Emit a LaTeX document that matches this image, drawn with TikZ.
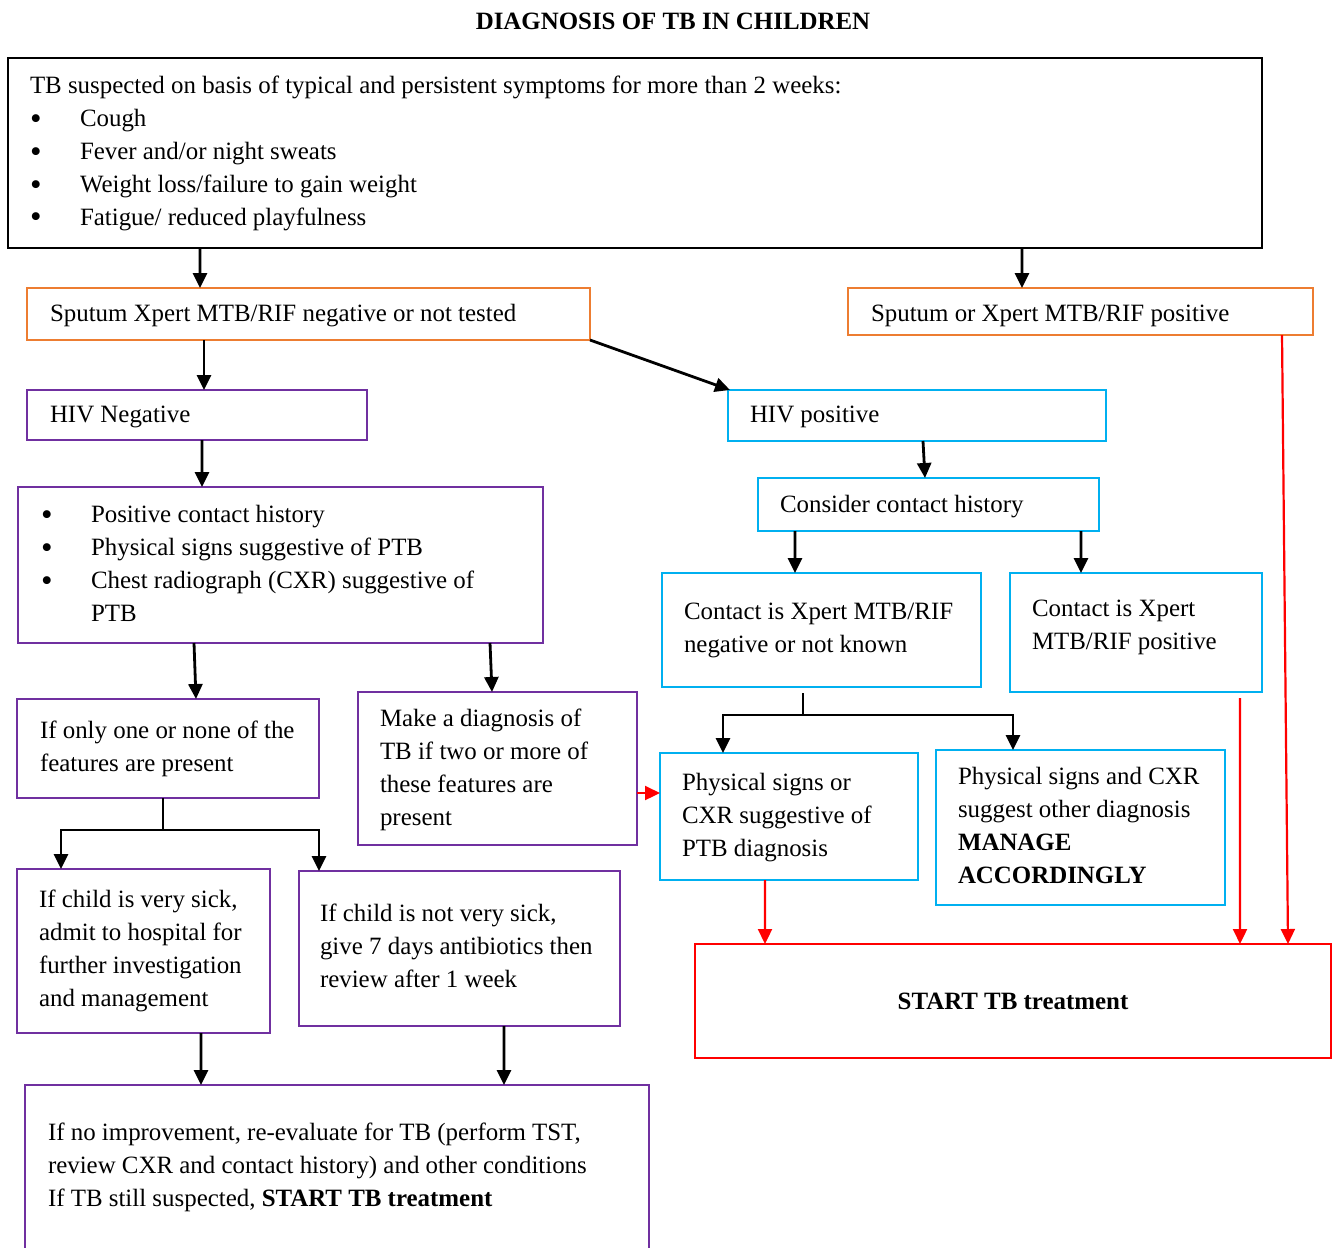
\documentclass[tikz,border=0pt]{standalone}
\usepackage{fontspec}
\setmainfont{Liberation Serif}
\usetikzlibrary{arrows.meta,calc}

\definecolor{borange}{HTML}{ED7D31}
\definecolor{bpurple}{HTML}{7030A0}
\definecolor{bblue}{HTML}{00B0F0}
\definecolor{bred}{HTML}{FF0000}

% box: name, style, x1, y1, x2, y2 (top-left origin, y downwards)
\newcommand\mkbox[6]{\node[#2, anchor=north west, inner sep=0pt, outer sep=0pt,
  minimum width={(#5-#3)*1bp}, minimum height={(#6-#4)*1bp}] (#1) at (#3,#4) {};}
% text block: name, x, first baseline y, content
\newcommand\mktext[4]{\node[txt] (#1) at (#2,#3-23.1) {\strut #4};}
% bullet set in a box of the given width
\newcommand\bul[1]{\makebox[#1][l]{\raisebox{-2.5bp}{\fontsize{33}{33}\selectfont\textbullet}}}

\begin{document}
\begin{tikzpicture}[x=1bp,y=-1bp,
  boxk/.style={draw=black, line width=2.9bp},
  boxo/.style={draw=borange, line width=2.9bp},
  boxp/.style={draw=bpurple, line width=2.9bp},
  boxb/.style={draw=bblue, line width=2.9bp},
  boxr/.style={draw=bred, line width=2.9bp},
  txt/.style={anchor=north west, inner sep=0pt, outer sep=0pt, align=left,
    font=\fontsize{25}{33}\selectfont},
  ln/.style={line width=2.8bp},
  arr/.style={line width=2.8bp, -{Triangle[length=15bp,width=14bp]}},
  rarr/.style={draw=bred, line width=2.2bp, -{Triangle[length=15bp,width=14bp]}}]

\useasboundingbox (0,0) rectangle (1332,1247);

\node[anchor=base, inner sep=0pt, font=\fontsize{25}{33}\selectfont\bfseries] (title) at (673,29) {DIAGNOSIS OF TB IN CHILDREN};

% boxes
\mkbox{top}{boxk}{8}{58}{1262}{248}
\mkbox{sneg}{boxo}{27}{288}{590}{340}
\mkbox{spos}{boxo}{848}{288}{1313}{335}
\mkbox{hivneg}{boxp}{27}{390}{367}{440}
\mkbox{hivpos}{boxb}{728}{390}{1106}{441}
\mkbox{feat}{boxp}{18}{487}{543}{643}
\mkbox{consider}{boxb}{758}{478}{1099}{531}
\mkbox{cneg}{boxb}{662}{573}{981}{687}
\mkbox{cpos}{boxb}{1010}{573}{1262}{692}
\mkbox{onenone}{boxp}{17}{699}{319}{798}
\mkbox{makediag}{boxp}{358}{692}{637}{845}
\mkbox{physor}{boxb}{660}{753}{918}{880}
\mkbox{physand}{boxb}{936}{750}{1225}{905}
\mkbox{start}{boxr}{695}{944}{1331}{1058}
\mkbox{verysick}{boxp}{17}{869}{270}{1033}
\mkbox{notsick}{boxp}{299}{871}{620}{1026}
\mkbox{bottom}{boxp}{25}{1085}{649}{1262}

% texts
\mktext{ttop}{30}{94}{TB suspected on basis of typical and persistent symptoms for more than 2 weeks:\\
\bul{50bp}Cough\\
\bul{50bp}Fever and/or night sweats\\
\bul{50bp}Weight loss/failure to gain weight\\
\bul{50bp}Fatigue/ reduced playfulness}
\mktext{tsneg}{50}{322}{Sputum Xpert MTB/RIF negative or not tested}
\mktext{tspos}{871}{322}{Sputum or Xpert MTB/RIF positive}
\mktext{thivneg}{50}{423}{HIV Negative}
\mktext{thivpos}{750}{423}{HIV positive}
\mktext{tfeat}{41}{523}{\bul{50bp}Positive contact history\\
\bul{50bp}Physical signs suggestive of PTB\\
\bul{50bp}Chest radiograph (CXR) suggestive of\\
\hspace*{50bp}PTB}
\mktext{tconsider}{780}{513}{Consider contact history}
\mktext{tcneg}{684}{620}{Contact is Xpert MTB/RIF\\negative or not known}
\mktext{tcpos}{1032}{617}{Contact is Xpert\\MTB/RIF positive}
\mktext{tonenone}{40}{739}{If only one or none of the\\features are present}
\mktext{tmakediag}{380}{727}{Make a diagnosis of\\TB if two or more of\\these features are\\present}
\mktext{tphysor}{682}{791}{Physical signs or\\CXR suggestive of\\PTB diagnosis}
\mktext{tphysand}{958}{785}{Physical signs and CXR\\suggest other diagnosis\\\textbf{MANAGE}\\\textbf{ACCORDINGLY}}
\mktext{tverysick}{39}{908}{If child is very sick,\\admit to hospital for\\further investigation\\and management}
\mktext{tnotsick}{320}{922}{If child is not very sick,\\give 7 days antibiotics then\\review after 1 week}
\mktext{tbottom}{48}{1141}{If no improvement, re-evaluate for TB (perform TST,\\review CXR and contact history) and other conditions\\If TB still suspected, \textbf{START TB treatment}}
\node[anchor=base, inner sep=0pt, font=\fontsize{25}{33}\selectfont\bfseries] (tstart) at (1013,1009) {START TB treatment};

% black connectors
\draw[arr] ([xshift=192bp]top.south west) -- ([xshift=173bp]sneg.north west);
\draw[arr] ([xshift=1014bp]top.south west) -- ([xshift=174bp]spos.north west);
\draw[arr] ([xshift=177bp]sneg.south west) -- ([xshift=177bp]hivneg.north west);
\draw[arr] (sneg.south east) -- ([xshift=2bp]hivpos.north west);
\draw[arr] ([xshift=175bp]hivneg.south west) -- ([xshift=184bp]feat.north west);
\draw[arr] ([xshift=195bp]hivpos.south west) -- ([xshift=167bp]consider.north west);
\draw[arr] ([xshift=37bp]consider.south west) -- ([xshift=133bp]cneg.north west);
\draw[arr] ([xshift=323bp]consider.south west) -- ([xshift=71bp]cpos.north west);
\draw[arr] ([xshift=176bp]feat.south west) -- ([xshift=179bp]onenone.north west);
\draw[arr] ([xshift=472bp]feat.south west) -- ([xshift=134bp]makediag.north west);

% split below contact negative
\coordinate (cj) at ([xshift=141bp,yshift=-28bp]cneg.south west);
\draw[ln] ([xshift=141bp,yshift=-6bp]cneg.south west) -- (cj);
\draw[arr] (cj) -| ([xshift=63bp]physor.north west);
\draw[arr] (cj) -| ([xshift=77bp]physand.north west);

% split below one-or-none
\coordinate (oj) at ([xshift=146bp,yshift=-32bp]onenone.south west);
\draw[ln] ([xshift=146bp]onenone.south west) -- (oj);
\draw[arr] (oj) -| ([xshift=44bp]verysick.north west);
\draw[arr] (oj) -| ([xshift=20bp]notsick.north west);

\draw[arr] ([xshift=184bp]verysick.south west) -- ([xshift=176bp]bottom.north west);
\draw[arr] ([xshift=205bp]notsick.south west) -- ([xshift=479bp]bottom.north west);

% red connectors
\draw[rarr] ([yshift=-24.5bp]makediag.east) -- ([yshift=-24.5bp]makediag.east -| physor.west);
\draw[rarr] ([xshift=105bp]physor.south west) -- ([xshift=70bp]start.north west);
\draw[rarr] ([xshift=230bp,yshift=-6bp]cpos.south west) -- ([xshift=545bp]start.north west);
\draw[rarr] ([xshift=434bp]spos.south west) -- ([xshift=593bp]start.north west);

\end{tikzpicture}
\end{document}
